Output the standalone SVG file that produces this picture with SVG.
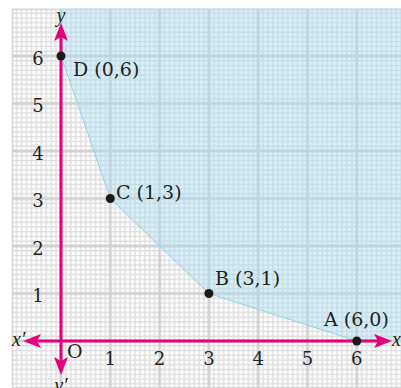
<svg xmlns="http://www.w3.org/2000/svg" width="401" height="388" viewBox="0 0 401 388">
  <style>
    .lbl { font-family: "DejaVu Serif", "Liberation Serif", serif; font-size: 19px; fill: #231f20; }
    .num { font-family: "DejaVu Serif", "Liberation Serif", serif; font-size: 18px; fill: #231f20; text-anchor: middle; }
    .ax { font-family: "Liberation Serif", serif; font-style: italic; font-size: 20px; fill: #231f20; }
    .axis { stroke: #e6007e; stroke-width: 3; fill: none; marker-start: url(#arrow); marker-end: url(#arrow); }
    .pt { fill: #1a1a1a; }
  </style>
  <defs>
    <pattern id="grid" patternUnits="userSpaceOnUse" x="11.7" y="8.5" width="49.3" height="47.5">
      <rect width="49.3" height="47.5" fill="#ffffff"/>
      <path d="M4.93 0V47.5M9.86 0V47.5M14.79 0V47.5M19.72 0V47.5M24.65 0V47.5M29.58 0V47.5M34.51 0V47.5M39.44 0V47.5M44.37 0V47.5M0 4.75H49.3M0 9.5H49.3M0 14.25H49.3M0 19H49.3M0 23.75H49.3M0 28.5H49.3M0 33.25H49.3M0 38H49.3M0 42.75H49.3" stroke="#dedede" stroke-width="1.4"/>
      <path d="M0 0V47.5M49.3 0V47.5M0 0H49.3M0 47.5H49.3" stroke="#d2d2d2" stroke-width="3"/>
    </pattern>
    <marker id="arrow" markerUnits="userSpaceOnUse" viewBox="0 0 18 14" refX="4" refY="7" markerWidth="18" markerHeight="14" orient="auto-start-reverse">
      <path d="M0 0L18 7L0 14L4 7Z" fill="#e6007e"/>
    </marker>
  </defs>

  <rect id="paper" x="11.7" y="8.5" width="390" height="380" fill="url(#grid)"/>

  <g id="feasible-region">
    <polygon points="61,8.5 61,56 110.3,198.5 208.9,293.5 356.8,341 401,341 401,8.5" fill="#a8dcf0" fill-opacity="0.42"/>
    <polyline points="61,8.5 61,56 110.3,198.5 208.9,293.5 356.8,341" fill="none" stroke="#92d2e8" stroke-width="1"/>
  </g>

  <g id="connectors">
    <line class="axis" x1="37" y1="341" x2="378" y2="341"/>
    <line class="axis" x1="61" y1="361" x2="61" y2="37"/>
  </g>

  <g id="axis-labels">
    <text class="ax" x="12" y="346">x′</text>
    <text class="ax" x="392" y="346">x</text>
    <text class="ax" x="61" y="22" text-anchor="middle">y</text>
    <text class="ax" x="61" y="392" text-anchor="middle">y′</text>
    <text class="lbl" x="67" y="358">O</text>
    <text class="num" x="110.3" y="365">1</text>
    <text class="num" x="159.6" y="365">2</text>
    <text class="num" x="208.9" y="365">3</text>
    <text class="num" x="258.2" y="365">4</text>
    <text class="num" x="307.5" y="365">5</text>
    <text class="num" x="356.8" y="365">6</text>
    <text class="num" x="38" y="302">1</text>
    <text class="num" x="38" y="254.5">2</text>
    <text class="num" x="38" y="207">3</text>
    <text class="num" x="38" y="159.5">4</text>
    <text class="num" x="38" y="112">5</text>
    <text class="num" x="38" y="64.5">6</text>
  </g>

  <g id="D">
    <circle class="pt" cx="61" cy="56" r="4.5"/>
    <text class="lbl" x="73" y="76">D (0,6)</text>
  </g>
  <g id="C">
    <circle class="pt" cx="110.3" cy="198.5" r="4.5"/>
    <text class="lbl" x="116" y="199">C (1,3)</text>
  </g>
  <g id="B">
    <circle class="pt" cx="208.9" cy="293.5" r="4.5"/>
    <text class="lbl" x="215" y="285">B (3,1)</text>
  </g>
  <g id="A">
    <circle class="pt" cx="356.8" cy="341" r="4.5"/>
    <text class="lbl" x="324" y="326">A (6,0)</text>
  </g>
</svg>
